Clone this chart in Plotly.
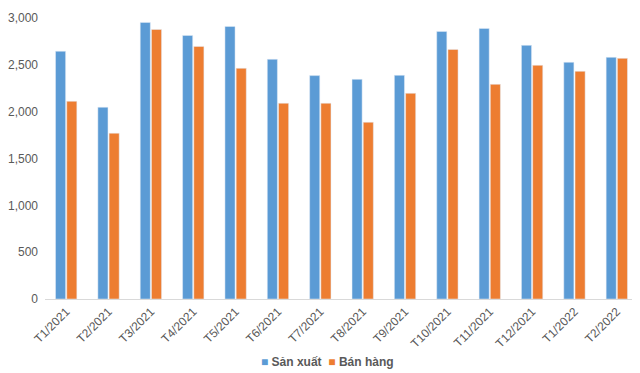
import plotly.graph_objects as go

categories = ["T1/2021", "T2/2021", "T3/2021", "T4/2021", "T5/2021", "T6/2021", "T7/2021",
              "T8/2021", "T9/2021", "T10/2021", "T11/2021", "T12/2021", "T1/2022", "T2/2022"]
san_xuat = [2645, 2047, 2953, 2814, 2910, 2559, 2385, 2345, 2388, 2857, 2889, 2708, 2527, 2580]
ban_hang = [2111, 1770, 2878, 2697, 2463, 2090, 2090, 1887, 2196, 2665, 2292, 2495, 2431, 2569]
series_names = ["Sản xuất", "Bán hàng"]
colors = ["#5B9BD5", "#ED7D31"]

fig = go.Figure()
fig.add_bar(x=categories, y=san_xuat, name=series_names[0], marker_color=colors[0], showlegend=False)
fig.add_bar(x=categories, y=ban_hang, name=series_names[1], marker_color=colors[1], showlegend=False)

legend_text = "  ".join(
    f"<span style='color:{c}'>■</span> <b>{n}</b>" for n, c in zip(series_names, colors)
)
fig.add_annotation(text=legend_text, xref="paper", yref="paper", x=0.476, y=-0.224,
                   xanchor="center", yanchor="middle", showarrow=False,
                   font=dict(family="Liberation Sans, Arial, sans-serif", size=12, color="#595959"))

fig.update_layout(
    width=632, height=365,
    margin=dict(l=37, r=2, t=10, b=74),
    paper_bgcolor="white", plot_bgcolor="white",
    barmode="group", bargap=0.47, bargroupgap=0.1,
    font=dict(family="Liberation Sans, Arial, sans-serif", size=12, color="#595959"),
    showlegend=False,
)
fig.update_xaxes(tickangle=-45, showline=True, linecolor="#D9D9D9", linewidth=1,
                 showgrid=False, ticks="", automargin=False,
                 tickfont=dict(size=12, color="#595959"))
fig.update_yaxes(range=[0, 3000], tickvals=[0, 500, 1000, 1500, 2000, 2500, 3000],
                 tickformat=",", showgrid=False, zeroline=False, showline=False, automargin=False,
                 tickfont=dict(size=12, color="#595959"), ticklabelstandoff=6)

fig.write_html("out.html")
